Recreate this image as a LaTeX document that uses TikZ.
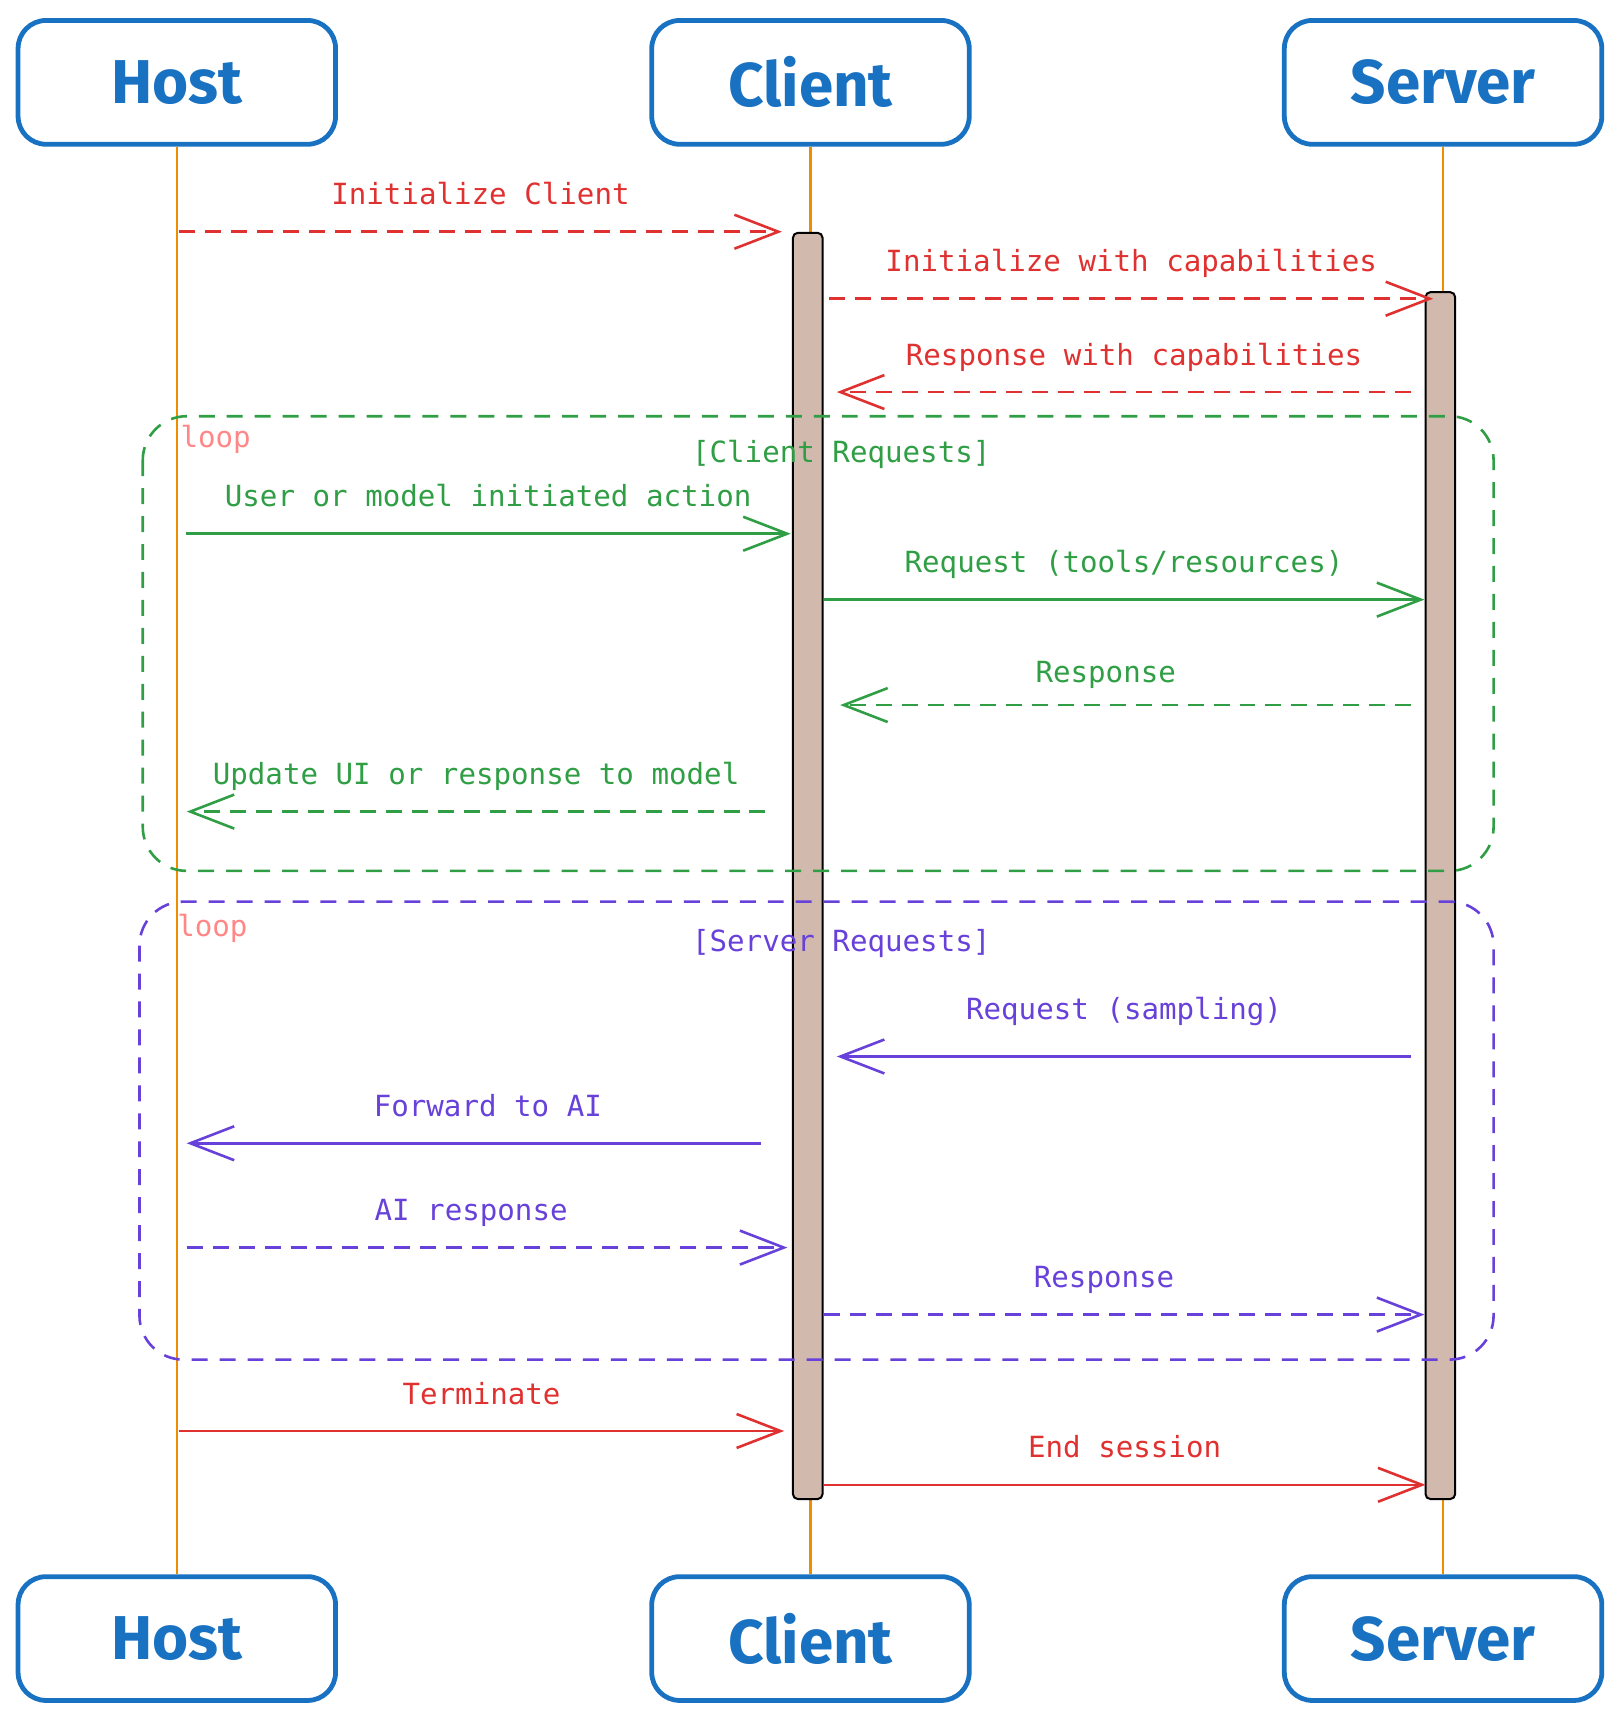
\documentclass[tikz,border=0pt]{standalone}
\usepackage{fontspec}
\setmainfont{DejaVu Sans Mono}
\newfontfamily\headfont{Fira Sans}
\usepackage{tikz}
\usetikzlibrary{arrows.meta}
\definecolor{SeqBlue}{HTML}{1971C2}
\definecolor{SeqRed}{HTML}{E03131}
\definecolor{SeqGreen}{HTML}{2F9E44}
\definecolor{SeqPurple}{HTML}{6741D9}
\definecolor{SeqOrange}{HTML}{F08C00}
\definecolor{SeqBar}{HTML}{D2B9AE}
\definecolor{SeqPink}{HTML}{FF8787}

\begin{document}
\begin{tikzpicture}[x=0.55pt, y=-0.55pt,
  actor/.style={draw=SeqBlue, line width=2.4pt, rounded corners=14pt, minimum width=159pt,
                minimum height=62pt, text=SeqBlue, font=\headfont\bfseries\fontsize{31}{36}\selectfont},
  life/.style={draw=SeqOrange, line width=1.1pt},
  actbar/.style={draw=black, fill=SeqBar, line width=1pt, rounded corners=2.5pt},
  msg/.style={line width=1.3pt, -{Straight Barb[length=22pt,width=17pt,line width=1.3pt]}},
  reply/.style={msg, dash pattern=on 8pt off 5pt},
  lbl/.style={midway, anchor=base, yshift=13.5pt, font=\fontsize{14.6}{17}\selectfont},
  frame/.style={line width=1.3pt, dash pattern=on 8pt off 6pt, rounded corners=22pt},
  tag/.style={font=\fontsize{14.6}{17}\selectfont}]
  \useasboundingbox (0,0) rectangle (1477,1568);
  % participants
  \node[actor] (hostT) at (161,75) {Host};
  \node[actor] (clientT) at (738,75) {Client};
  \node[actor] (serverT) at (1314,75) {Server};
  \node[actor] (hostB) at (161,1492) {Host};
  \node[actor] (clientB) at (738,1492) {Client};
  \node[actor] (serverB) at (1314,1492) {Server};
  \foreach \p in {host,client,server}{\draw[life] (\p T.south) -- (\p B.north);}
  % activations
  \draw[actbar] (722,212) rectangle (749,1365);
  \draw[actbar] (1298,266) rectangle (1325,1365);
  % loop frames
  \draw[frame, draw=SeqGreen] (130,379) rectangle (1360,793);
  \node[tag, anchor=west, text=SeqPink] (loopA) at (158,400) {loop};
  \node[tag, text=SeqGreen] (condA) at (766,414) {[Client Requests]};
  \draw[frame, draw=SeqPurple] (127,821) rectangle (1360,1238);
  \node[tag, anchor=west, text=SeqPink] (loopB) at (155,845) {loop};
  \node[tag, text=SeqPurple] (condB) at (766,859) {[Server Requests]};
  % messages
  \coordinate (m1a) at (163,211);  \coordinate (m1b) at (712,211);
  \coordinate (m2a) at (755,272);  \coordinate (m2b) at (1305,272);
  \coordinate (m3a) at (1285,357); \coordinate (m3b) at (762,357);
  \coordinate (m4a) at (169,486);  \coordinate (m4b) at (720,486);
  \coordinate (m5a) at (750,546);  \coordinate (m5b) at (1297,546);
  \coordinate (m6a) at (1285,642); \coordinate (m6b) at (765,642);
  \coordinate (m7a) at (697,739);  \coordinate (m7b) at (170,739);
  \coordinate (m8a) at (1285,962); \coordinate (m8b) at (762,962);
  \coordinate (m9a) at (693,1041); \coordinate (m9b) at (170,1041);
  \coordinate (m10a) at (170,1136); \coordinate (m10b) at (717,1136);
  \coordinate (m11a) at (750,1197); \coordinate (m11b) at (1297,1197);
  \coordinate (m12a) at (163,1303); \coordinate (m12b) at (714,1303);
  \coordinate (m13a) at (750,1352); \coordinate (m13b) at (1298,1352);
  \draw[reply, SeqRed] (m1a) -- node[lbl]{Initialize Client} (m1b);
  \draw[reply, SeqRed] (m2a) -- node[lbl]{Initialize with capabilities} (m2b);
  \draw[reply, SeqRed] (m3a) -- node[lbl, xshift=5pt]{Response with capabilities} (m3b);
  \draw[msg, SeqGreen] (m4a) -- node[lbl]{User or model initiated action} (m4b);
  \draw[msg, SeqGreen] (m5a) -- node[lbl]{Request (tools/resources)} (m5b);
  \draw[reply, SeqGreen] (m6a) -- node[lbl, xshift=-10pt, yshift=-2pt]{Response} (m6b);
  \draw[reply, SeqGreen] (m7a) -- node[lbl]{Update UI or response to model} (m7b);
  \draw[msg, SeqPurple] (m8a) -- node[lbl, yshift=5pt]{Request (sampling)} (m8b);
  \draw[msg, SeqPurple] (m9a) -- node[lbl, xshift=7pt]{Forward to AI} (m9b);
  \draw[reply, SeqPurple] (m10a) -- node[lbl, xshift=-8pt]{AI response} (m10b);
  \draw[reply, SeqPurple] (m11a) -- node[lbl, xshift=-10pt]{Response} (m11b);
  \draw[msg, SeqRed] (m12a) -- node[lbl]{Terminate} (m12b);
  \draw[msg, SeqRed] (m13a) -- node[lbl]{End session} (m13b);
\end{tikzpicture}
\end{document}
